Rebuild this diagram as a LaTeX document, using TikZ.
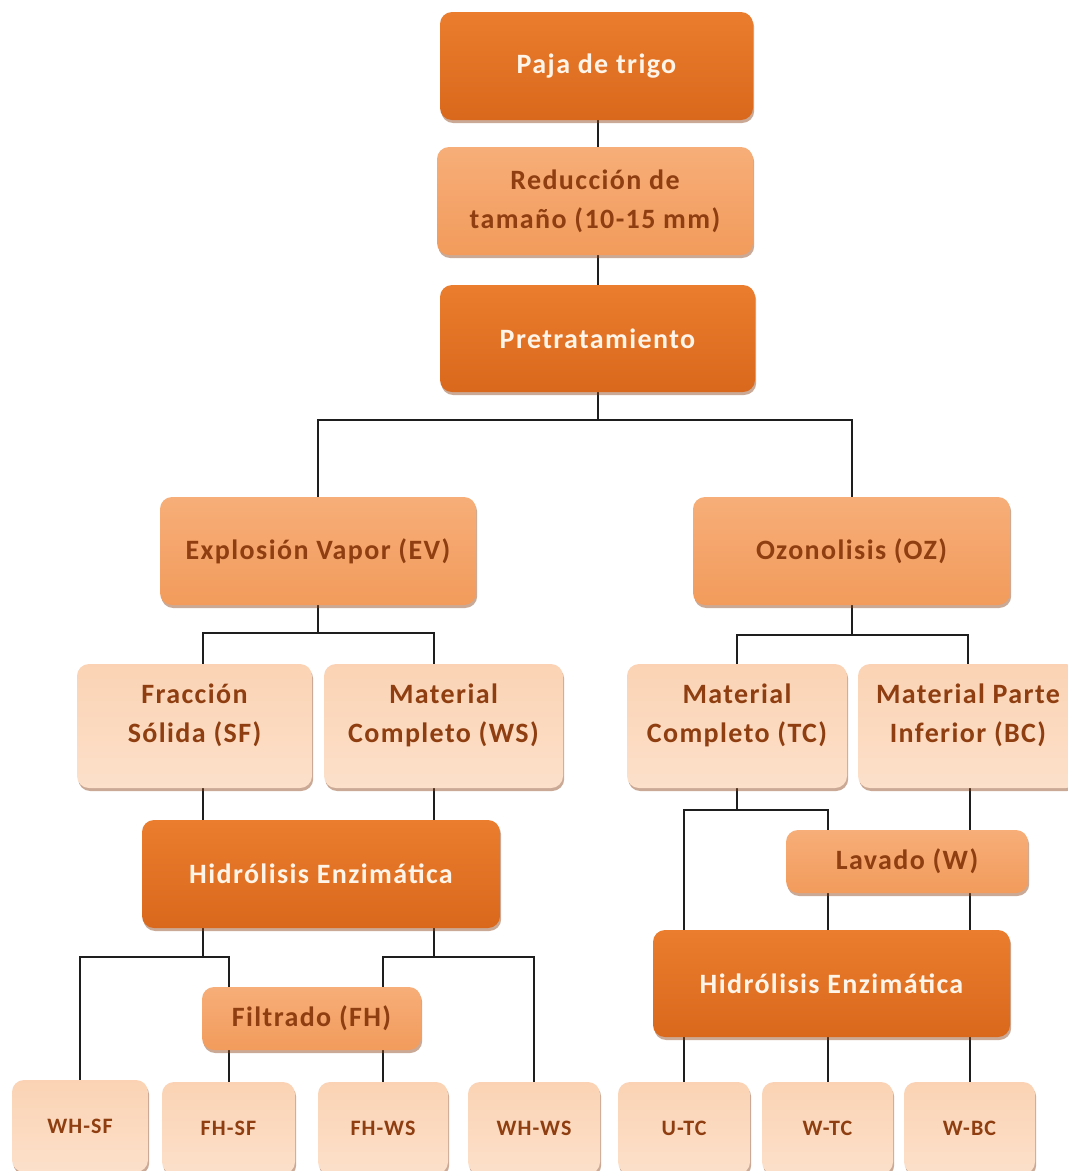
\documentclass[tikz,border=0pt]{standalone}
\usepackage{fontspec}
\setmainfont{Carlito}[LetterSpace=5]
\usetikzlibrary{shadows,backgrounds,calc}
\definecolor{dkTop}{HTML}{EA7D2E}
\definecolor{dkBot}{HTML}{DA681C}
\definecolor{mdTop}{HTML}{F7AE78}
\definecolor{mdBot}{HTML}{F29B5C}
\definecolor{plTop}{HTML}{FBD3B4}
\definecolor{plBot}{HTML}{FCE0CA}
\definecolor{txtBrown}{HTML}{8E3E10}
\definecolor{txtLight}{HTML}{FFF4E8}
\definecolor{shadowC}{HTML}{8A4418}
\definecolor{lineC}{HTML}{1E1E1E}
\tikzset{
  box/.style={rounded corners=12pt, inner sep=0pt, align=center,
    font=\bfseries\fontsize{28}{39}\selectfont,
    drop shadow={shadow xshift=1.2pt, shadow yshift=-3pt, opacity=0.45, fill=shadowC}},
  darkbox/.style={box, top color=dkTop, bottom color=dkBot, text=txtLight},
  midbox/.style={box, top color=mdTop, bottom color=mdBot, text=txtBrown},
  palebox/.style={box, top color=plTop, bottom color=plBot, text=txtBrown},
  boxtext/.style={inner sep=0pt, align=center, text=txtBrown,
    font=\bfseries\fontsize{28}{39}\selectfont},
  smalltext/.style={font=\bfseries\fontsize{22}{28}\selectfont},
  conn/.style={draw=lineC, line width=2pt}
}
\begin{document}
\begin{tikzpicture}[x=1pt,y=-1pt]
\useasboundingbox (0,0) rectangle (1068,1171);
\begin{scope}
\clip (0,0) rectangle (1068,1171);
% top chain
\node[darkbox, minimum width=313pt, minimum height=108pt] (paja) at (596.5,66) {Paja de trigo};
\node[midbox, minimum width=316pt, minimum height=108pt] (red) at (595,201) {Reducción de\\tamaño (10-15 mm)};
\node[darkbox, minimum width=315pt, minimum height=107pt] (pre) at (597.5,338.5) {Pretratamiento};
% pretreatments
\node[midbox, minimum width=316pt, minimum height=108pt] (ev) at (318,551) {Explosión Vapor (EV)};
\node[midbox, minimum width=317pt, minimum height=108pt] (oz) at (851.5,551) {Ozonolisis (OZ)};
% fractions
\node[palebox, minimum width=235pt, minimum height=124pt] (sf) at (194.5,726) {};
\node[boxtext] (sft) at ([yshift=11pt]sf.center) {Fracción\\Sólida (SF)};
\node[palebox, minimum width=239pt, minimum height=124pt] (ws) at (443.5,726) {};
\node[boxtext] (wst) at ([yshift=11pt]ws.center) {Material\\Completo (WS)};
\node[palebox, minimum width=220pt, minimum height=124pt] (tc) at (737,726) {};
\node[boxtext] (tct) at ([yshift=11pt]tc.center) {Material\\Completo (TC)};
\node[palebox, minimum width=220pt, minimum height=124pt] (bc) at (968,726) {};
\node[boxtext] (bct) at ([yshift=11pt]bc.center) {Material Parte\\Inferior (BC)};
% hydrolysis
\node[darkbox, minimum width=358pt, minimum height=108pt] (hidL) at (321,874) {Hidrólisis Enzimática};
\node[midbox, minimum width=219pt, minimum height=63pt] (fh) at (311.5,1018.5) {Filtrado (FH)};
\node[midbox, minimum width=242pt, minimum height=63pt] (lav) at (907,861.5) {Lavado (W)};
\node[darkbox, minimum width=357pt, minimum height=107pt] (hidR) at (831.5,983.5) {Hidrólisis Enzimática};
% products
\node[palebox, smalltext, minimum width=136pt, minimum height=92pt] (whsf) at (80,1126) {WH-SF};
\node[palebox, smalltext, minimum width=133pt, minimum height=92pt] (fhsf) at (228.5,1128) {FH-SF};
\node[palebox, smalltext, minimum width=130pt, minimum height=92pt] (fhws) at (383,1128) {FH-WS};
\node[palebox, smalltext, minimum width=132pt, minimum height=92pt] (whws) at (534,1128) {WH-WS};
\node[palebox, smalltext, minimum width=132pt, minimum height=92pt] (utc) at (684,1128) {U-TC};
\node[palebox, smalltext, minimum width=131pt, minimum height=92pt] (wtc) at (827.5,1128) {W-TC};
\node[palebox, smalltext, minimum width=131pt, minimum height=92pt] (wbc) at (969.5,1128) {W-BC};
\end{scope}
\coordinate (xTop) at (598,0);
\coordinate (xSF) at (203,0);
\coordinate (xWS) at (434,0);
\begin{scope}[on background layer]
\fill[white] (0,0) rectangle (1068,1171);
\draw[conn] (paja.south -| xTop) -- (red.north -| xTop);
\draw[conn] (red.south -| xTop) -- (pre.north -| xTop);
\draw[conn] (pre.south -| xTop) -- ++(0,28) -| (ev.north);
\draw[conn] (pre.south -| xTop) -- ++(0,28) -| (oz.north);
\draw[conn] (ev.south) -- ++(0,28) -| (sf.north -| xSF);
\draw[conn] (ev.south) -- ++(0,28) -| (ws.north -| xWS);
\draw[conn] (oz.south) -- ++(0,30) -| (tc.north);
\draw[conn] (oz.south) -- ++(0,30) -| (bc.north);
\draw[conn] (sf.south -| xSF) -- (hidL.north -| xSF);
\draw[conn] (ws.south -| xWS) -- (hidL.north -| xWS);
\draw[conn] (hidL.south -| xSF) -- ++(0,29) -| (whsf.north);
\draw[conn] (hidL.south -| xSF) -- ++(0,29) -| (fh.north -| fhsf.north);
\draw[conn] (hidL.south -| xWS) -- ++(0,29) -| (fh.north -| fhws.north);
\draw[conn] (hidL.south -| xWS) -- ++(0,29) -| (whws.north);
\draw[conn] (fh.south -| fhsf.north) -- (fhsf.north);
\draw[conn] (fh.south -| fhws.north) -- (fhws.north);
\draw[conn] (tc.south) -- ++(0,22) -| (hidR.north -| utc.north);
\draw[conn] (tc.south) -- ++(0,22) -| (lav.north -| wtc.north);
\draw[conn] (bc.south -| wbc.north) -- (lav.north -| wbc.north);
\draw[conn] (lav.south -| wtc.north) -- (hidR.north -| wtc.north);
\draw[conn] (lav.south -| wbc.north) -- (hidR.north -| wbc.north);
\draw[conn] (hidR.south -| utc.north) -- (utc.north);
\draw[conn] (hidR.south -| wtc.north) -- (wtc.north);
\draw[conn] (hidR.south -| wbc.north) -- (wbc.north);
\end{scope}
\end{tikzpicture}
\end{document}
